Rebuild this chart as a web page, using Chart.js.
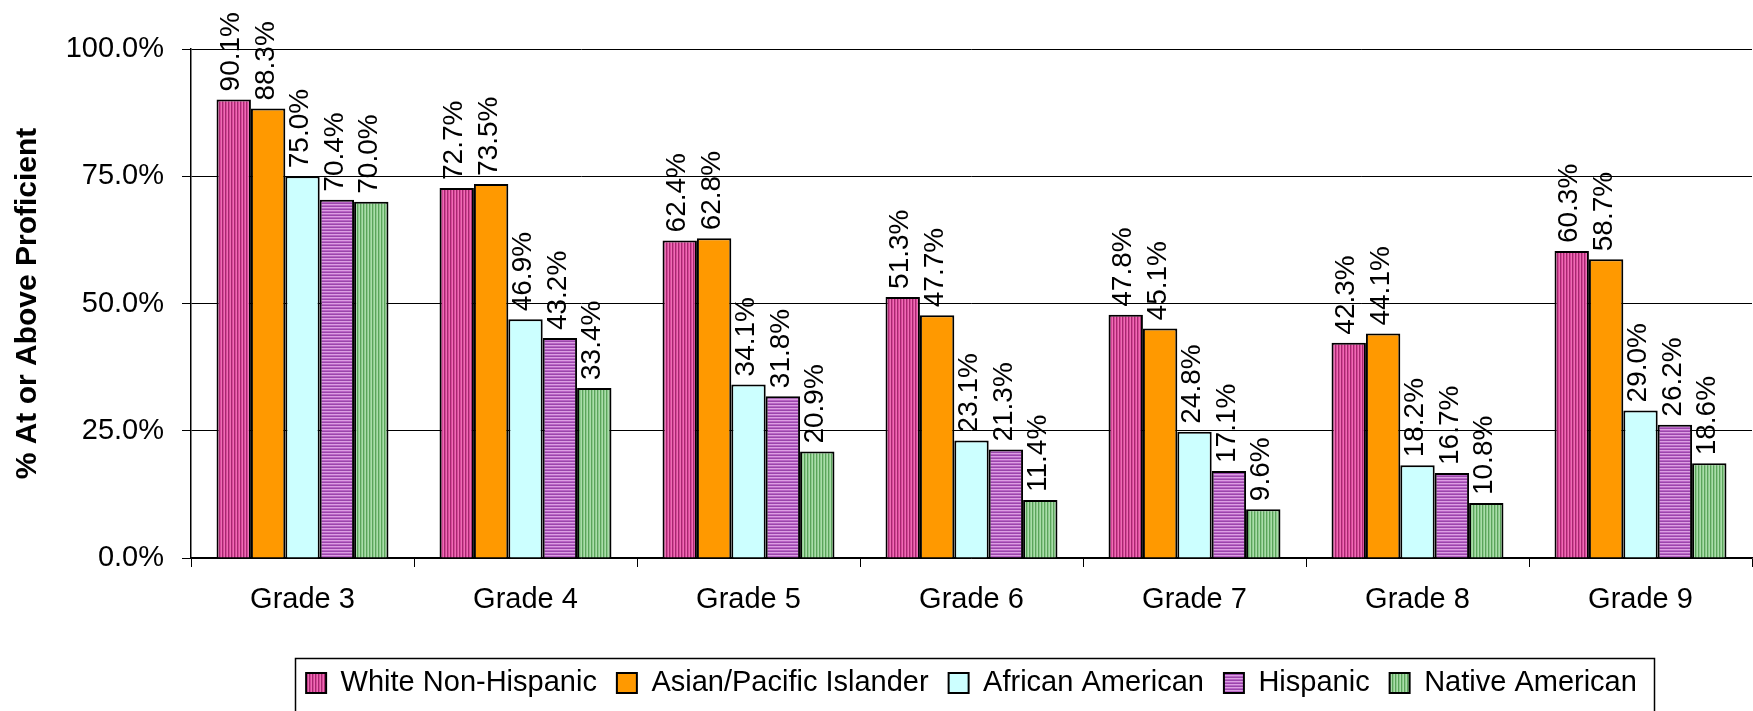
<!DOCTYPE html>
<html>
<head>
<meta charset="utf-8">
<script src="https://cdn.jsdelivr.net/npm/chart.js@4/dist/chart.umd.min.js"></script>
<style>
  html, body { margin: 0; padding: 0; background: #fff; }
  #wrap { width: 1753px; height: 711px; }
</style>
</head>
<body>
<div id="wrap"><canvas id="chart" width="1753" height="711"></canvas></div>
<script>
// categories and series (percent at or above proficient)
const grades = ['Grade 3', 'Grade 4', 'Grade 5', 'Grade 6', 'Grade 7', 'Grade 8', 'Grade 9'];
const whiteNonHispanic = [90.1, 72.7, 62.4, 51.3, 47.8, 42.3, 60.3];
const asianPacific = [88.3, 73.5, 62.8, 47.7, 45.1, 44.1, 58.7];
const africanAmerican = [75.0, 46.9, 34.1, 23.1, 24.8, 18.2, 29.0];
const hispanic = [70.4, 43.2, 31.8, 21.3, 17.1, 16.7, 26.2];
const nativeAmerican = [70.0, 33.4, 20.9, 11.4, 9.6, 10.8, 18.6];
const yTicks = [0, 25, 50, 75, 100];

const FONT = "'Liberation Sans', Arial, sans-serif";

// striped fills like the old office chart patterns
function stripes(colors, vertical) {
    const c = document.createElement('canvas');
    const n = colors.length;
    c.width = vertical ? n : 1;
    c.height = vertical ? 1 : n;
    const g = c.getContext('2d');
    colors.forEach((col, i) => {
        g.fillStyle = col;
        if (vertical) g.fillRect(i, 0, 1, 1);
        else g.fillRect(0, i, 1, 1);
    });
    return g.createPattern(c, 'repeat');
}

const whiteFill = stripes(['#a6286f', '#d9479b', '#ee6db4'], true);
const hispFill = stripes(['#dc9fe3', '#b965c6', '#9a46ab'], false);
const nativeFill = stripes(['#5ba35b', '#8ccc8c', '#abdcab'], true);

function ds(label, data, fill) {
    return {
        label: label,
        data: data,
        backgroundColor: fill,
        borderColor: '#000',
        borderWidth: 2,
        barPercentage: 1,
        categoryPercentage: 0.771
    };
}

// rotated value labels above each bar
const valueLabels = {
    id: 'valueLabels',
    afterDatasetsDraw(chart) {
        const ctx = chart.ctx;
        ctx.save();
        ctx.fillStyle = '#000';
        ctx.font = '28px ' + FONT;
        ctx.textAlign = 'left';
        ctx.textBaseline = 'middle';
        chart.data.datasets.forEach((d, i) => {
            chart.getDatasetMeta(i).data.forEach((bar, j) => {
                ctx.save();
                ctx.translate(bar.x - 2, bar.y - 8);
                ctx.rotate(-Math.PI / 2);
                ctx.fillText(d.data[j].toFixed(1) + '%', 0, 0);
                ctx.restore();
            });
        });
        ctx.restore();
    }
};

// frame around the legend
const legendFrame = {
    id: 'legendFrame',
    afterDraw(chart) {
        const boxes = chart.legend.legendHitBoxes;
        if (!boxes || !boxes.length) return;
        const left = Math.min(...boxes.map(b => b.left)) - 11;
        const right = Math.max(...boxes.map(b => b.left + b.width)) + 17;
        const ctx = chart.ctx;
        ctx.save();
        ctx.strokeStyle = '#000';
        ctx.lineWidth = 1.5;
        ctx.strokeRect(Math.round(left) + 0.5, 658.5, Math.round(right - left), 70);
        ctx.restore();
    }
};

new Chart(document.getElementById('chart'), {
    type: 'bar',
    data: {
        labels: grades,
        datasets: [
            ds('White Non-Hispanic', whiteNonHispanic, whiteFill),
            ds('Asian/Pacific Islander', asianPacific, '#ff9900'),
            ds('African American', africanAmerican, '#ccffff'),
            ds('Hispanic', hispanic, hispFill),
            ds('Native American', nativeAmerican, nativeFill)
        ]
    },
    options: {
        responsive: false,
        animation: false,
        devicePixelRatio: 1,
        layout: { padding: { top: 49, right: 1, bottom: 3.5, left: 0 } },
        scales: {
            x: {
                offset: true,
                grid: {
                    offset: true,
                    drawOnChartArea: false,
                    drawTicks: true,
                    tickLength: 9,
                    color: '#000',
                    lineWidth: 1
                },
                border: { color: '#000', width: 1.5 },
                ticks: {
                    color: '#000',
                    font: { family: FONT, size: 29 },
                    padding: 16,
                    maxRotation: 0
                },
                afterFit(scale) { scale.height = 90.5; }
            },
            y: {
                min: 0,
                max: 100,
                afterBuildTicks(scale) { scale.ticks = yTicks.map(v => ({ value: v })); },
                grid: { color: '#000', lineWidth: 1, tickLength: 9 },
                border: { color: '#000', width: 1.5 },
                ticks: {
                    color: '#000',
                    font: { family: FONT, size: 29 },
                    padding: 18,
                    callback: v => v.toFixed(1) + '%'
                },
                title: {
                    display: true,
                    text: '% At or Above Proficient',
                    color: '#000',
                    font: { family: FONT, size: 30, weight: 'bold' },
                    padding: { top: 10, bottom: 0 }
                },
                afterFit(scale) { scale.width = 191; }
            }
        },
        plugins: {
            tooltip: { enabled: false },
            legend: {
                position: 'bottom',
                fullSize: false,
                labels: {
                    color: '#000',
                    font: { family: FONT, size: 29 },
                    boxWidth: 20,
                    boxHeight: 20,
                    padding: 20,
                    generateLabels(chart) {
                        return chart.data.datasets.map((d, i) => ({
                            text: d.label,
                            fillStyle: d.backgroundColor,
                            strokeStyle: '#000',
                            lineWidth: 2,
                            datasetIndex: i
                        }));
                    }
                }
            }
        }
    },
    plugins: [valueLabels, legendFrame]
});
</script>
</body>
</html>
